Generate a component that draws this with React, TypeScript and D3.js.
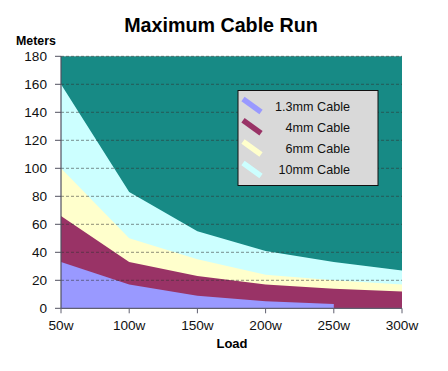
import React from "react";
import * as d3 from "d3";

const loads = ["50w", "100w", "150w", "200w", "250w", "300w"];
const cable13 = [33, 17, 9, 5, 3, null];
const cable4 = [66, 33, 23, 17, 14, 12];
const cable6 = [100, 50, 35, 24, 20, 17];
const cable10 = [160, 83, 55, 41, 33, 27];
const yTicks = [0, 20, 40, 60, 80, 100, 120, 140, 160, 180];
const seriesNames = ["1.3mm Cable", "4mm Cable", "6mm Cable", "10mm Cable"];
const seriesColors = ["#9999ff", "#993366", "#ffffcc", "#ccffff"];

const W = 448;
const H = 371;
const left = 61;
const right = 402;
const top = 56.3;
const bottom = 308.3;

export default function App() {
  const x = d3.scalePoint<string>().domain(loads).range([left, right]);
  const y = d3.scaleLinear().domain([0, 180]).range([bottom, top]);
  const series = [cable13, cable4, cable6, cable10];

  const area = d3
    .area<number | null>()
    .defined((d) => d !== null)
    .x((_, i) => x(loads[i]) as number)
    .y0(y(0))
    .y1((d) => y(d as number));

  const font = "Arial, 'Liberation Sans', sans-serif";

  return (
    <svg
      width={W}
      height={H}
      style={{ position: "absolute", left: 0, top: 0, background: "#fff" }}
      fontFamily={font}
    >
      <rect x={left} y={top} width={right - left} height={bottom - top} fill="#178a85" />
      {[3, 2, 1, 0].map((si) => (
        <path key={si} d={area(series[si]) || ""} fill={seriesColors[si]} />
      ))}
      {yTicks
        .filter((t) => t > 0)
        .map((t) => (
          <line
            key={t}
            x1={left}
            x2={right}
            y1={y(t)}
            y2={y(t)}
            stroke="#333"
            strokeOpacity={0.55}
            strokeWidth={1}
            strokeDasharray="3,2"
          />
        ))}
      {/* axes */}
      <line x1={left} x2={left} y1={top} y2={bottom} stroke="#505060" strokeWidth={1.2} />
      <line x1={left} x2={right} y1={bottom} y2={bottom} stroke="#606070" strokeWidth={1.2} />
      {yTicks.map((t) => (
        <g key={t}>
          <line x1={left - 6} x2={left} y1={y(t)} y2={y(t)} stroke="#505060" strokeWidth={1} />
          <text x={47} y={y(t)} dy="0.35em" textAnchor="end" fontSize={13.6} fill="#111">
            {t}
          </text>
        </g>
      ))}
      {loads.map((l) => (
        <g key={l}>
          <line
            x1={x(l) as number}
            x2={x(l) as number}
            y1={bottom}
            y2={bottom + 5}
            stroke="#606070"
            strokeWidth={1}
          />
          <text x={x(l) as number} y={330} textAnchor="middle" fontSize={13.6} fill="#111">
            {l}
          </text>
        </g>
      ))}
      {/* titles */}
      <text x={221} y={32} textAnchor="middle" fontSize={19.7} fontWeight="bold" fill="#000">
        Maximum Cable Run
      </text>
      <text x={16} y={45} fontSize={12.4} fontWeight="bold" fill="#000">
        Meters
      </text>
      <text x={232} y={348} textAnchor="middle" fontSize={13} fontWeight="bold" fill="#000">
        Load
      </text>
      {/* legend */}
      <rect x={238} y={90.5} width={140} height={95} fill="#d9d9d9" stroke="#111" strokeWidth={1} />
      {seriesNames.map((n, i) => {
        const cy = 106 + i * 21.3;
        return (
          <g key={n}>
            <line
              x1={243}
              y1={cy - 7}
              x2={261}
              y2={cy + 6}
              stroke={seriesColors[i]}
              strokeWidth={5.5}
            />
            <text x={350} y={cy + 4.5} textAnchor="end" fontSize={12.6} fill="#111">
              {n}
            </text>
          </g>
        );
      })}
    </svg>
  );
}
